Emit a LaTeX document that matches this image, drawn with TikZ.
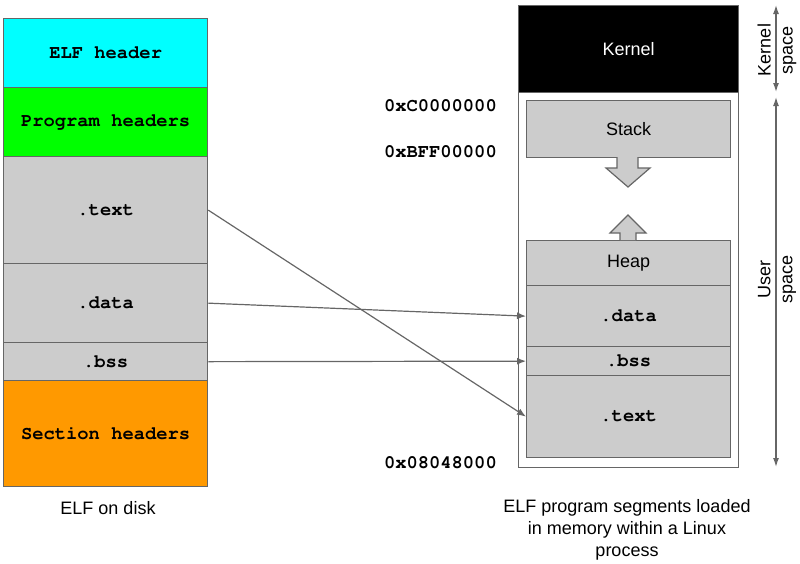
\documentclass[tikz,border=0pt]{standalone}
\usepackage{fontspec}
\setmainfont{Liberation Sans}
\newcommand\codefont{\fontencoding{T1}\fontfamily{pcr}\bfseries\selectfont}
\usepackage{tikz}
\usetikzlibrary{arrows.meta}

\definecolor{linegray}{HTML}{666666}
\definecolor{boxgray}{HTML}{CCCCCC}
\definecolor{hdrcyan}{HTML}{00FFFF}
\definecolor{hdrgreen}{HTML}{00FF00}
\definecolor{hdrorange}{HTML}{FF9900}

\begin{document}
\begin{tikzpicture}[
		x=1pt, y=-1pt,
		font=\fontsize{18}{22}\selectfont,
		every node/.style={inner sep=0pt},
		seg/.style={draw=linegray, line width=1.3pt, anchor=north west, minimum width=204pt},
		code/.style={font=\fontsize{18.8}{22}\codefont},
		growarrow/.style={draw=linegray, line width=1.2pt, fill=boxgray},
		seclink/.style={draw=linegray, line width=1.2pt, -{Latex[length=9pt, width=7pt]}},
		spanarrow/.style={draw=linegray, line width=1.3pt, {Latex[length=9pt, width=6pt]}-{Latex[length=9pt, width=6pt]}}
	]
  \useasboundingbox (0,0) rectangle (800,563);
  % ELF file on disk
  \node (elfhdr) [seg, code, fill=hdrcyan, minimum height=69pt] at (3,18) {ELF header};
  \node (proghdr) [seg, code, fill=hdrgreen, minimum height=69pt] at (3,87) {Program headers};
  \node (text) [seg, code, fill=boxgray, minimum height=107pt] at (3,156) {.text};
  \node (data) [seg, code, fill=boxgray, minimum height=79pt] at (3,263) {.data};
  \node (bss) [seg, code, fill=boxgray, minimum height=38pt] at (3,342) {.bss};
  \node (secthdr) [seg, code, fill=hdrorange, minimum height=106pt] at (3,380) {Section headers};
  \node (disk) at (108,508) {ELF on disk};
  % process memory
  \node (mem) [seg, minimum width=220pt, minimum height=462pt] at (518,5) {};
  \node (kernel) [seg, minimum width=220pt, minimum height=87pt, fill=black, text=white] at (518,5) {Kernel};
  \node (stack) [seg, fill=boxgray, minimum height=57pt] at (526,100) {Stack};
  \node (heap) [seg, fill=boxgray, minimum height=45pt] at (526,240) {Heap};
  \node (mdata) [seg, code, fill=boxgray, minimum height=61pt] at (526,285) {.data};
  \node (mbss) [seg, code, fill=boxgray, minimum height=29pt] at (526,346) {.bss};
  \node (mtext) [seg, code, fill=boxgray, minimum height=82pt] at (526,375) {.text};
  \draw [growarrow] (617,157) -- (617,168) -- (606,168) -- (628,187) -- (650,168) -- (638,168) -- (638,157);
  \draw [growarrow] (620,240) -- (620,233) -- (610,233) -- (628,215) -- (646,233) -- (636,233) -- (636,240);
  \node (proc) [align=center] at (627,530) {ELF program segments loaded\\in memory within a Linux\\process};
  % addresses
  \node (addrtop) [code, anchor=east] at (497,106) {0xC0000000};
  \node (addrstack) [code, anchor=east] at (497,152) {0xBFF00000};
  \node (addrbase) [code, anchor=east] at (497,463) {0x08048000};
  % kernel and user space
  \coordinate (ktop) at (776,5);
  \coordinate (kbot) at (776,92);
  \coordinate (utop) at (776,97);
  \coordinate (ubot) at (776,467);
  \draw [spanarrow] (ktop) -- (kbot);
  \draw [spanarrow] (utop) -- (ubot);
  \node (kspace) [rotate=90, align=center] at (777,50) {Kernel\\space};
  \node (uspace) [rotate=90, align=center] at (777,279) {User\\space};
  % sections to segments
  \draw [seclink] (text.east) -- (mtext.west);
  \draw [seclink] (data.east) -- (mdata.west);
  \draw [seclink] (bss.east) -- (mbss.west);
\end{tikzpicture}
\end{document}
